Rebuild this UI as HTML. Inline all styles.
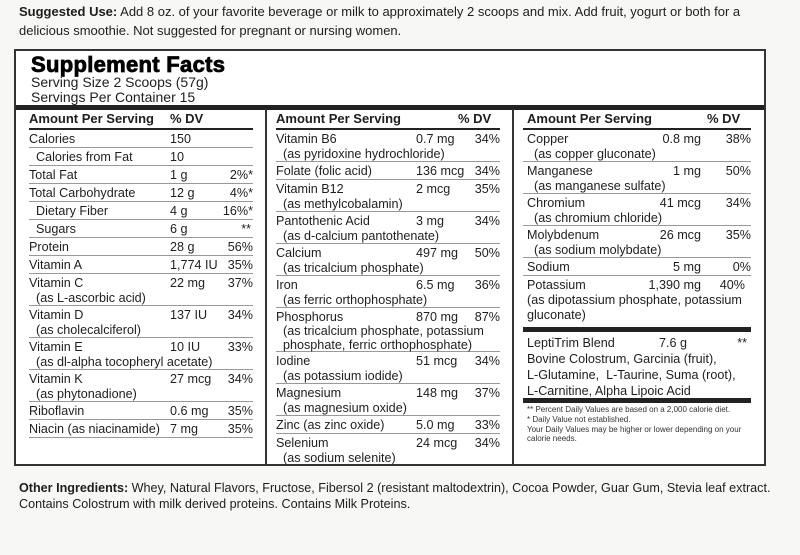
<!DOCTYPE html>
<html><head><meta charset="utf-8"><style>
*{margin:0;padding:0;box-sizing:border-box}
body{width:800px;height:555px;background:#f7f7f6;font-family:"Liberation Sans",Arial,sans-serif;color:#1e1e1e;position:relative;overflow:hidden}
.t{position:absolute;font-size:13px;line-height:16px;white-space:nowrap}
#box{position:absolute;left:14px;top:49px;width:752px;height:417px;background:#fff;border:2px solid #333}
.ttl{position:absolute;left:15px;top:3px;font-size:22px;line-height:22px;font-weight:bold;letter-spacing:0.3px;color:#000;-webkit-text-stroke:0.8px #000;white-space:nowrap}
.col{position:absolute;top:58px;height:357px}
.r{position:absolute;left:0;right:0;border-bottom:1px solid #999;font-size:12.6px;line-height:15px;padding-top:2px;white-space:nowrap}
.r .v{position:absolute;top:2px}
.r .d{position:absolute;top:2px}
.hd{position:absolute;left:0;right:0;top:0;height:21px;border-bottom:2px solid #222;font-weight:bold;font-size:13px;line-height:19px}
.vl{position:absolute;top:58px;width:2px;height:357px;background:#333}
</style></head><body>
<div class="t" style="left:19px;top:4px"><b>Suggested Use:</b> Add 8 oz. of your favorite beverage or milk to approximately 2 scoops and mix. Add fruit, yogurt or both for a</div>
<div class="t" style="left:19px;top:23px">delicious smoothie. Not suggested for pregnant or nursing women.</div>
<div id="box">
<div class="ttl">Supplement Facts</div>
<div class="t" style="left:15px;top:23px;font-size:14px">Serving Size 2 Scoops (57g)</div>
<div class="t" style="left:15px;top:38px;font-size:14px">Servings Per Container 15</div>
<div style="position:absolute;left:0;right:0;top:54px;height:5px;background:#222"></div>
<div class="vl" style="left:249px"></div>
<div class="vl" style="left:496px"></div>

<div class="col" style="left:13px;width:224px">
<div class="hd"><span style="position:absolute;left:0">Amount Per Serving</span><span style="position:absolute;left:141px">% DV</span></div>
<div class="r" style="top:21px;height:18px">Calories<span class="v" style="left:141px">150</span></div>
<div class="r" style="top:39px;height:18px">&nbsp;&nbsp;Calories from Fat<span class="v" style="left:141px">10</span></div>
<div class="r" style="top:57px;height:18px">Total Fat<span class="v" style="left:141px">1 g</span><span class="d" style="right:0">2%*</span></div>
<div class="r" style="top:75px;height:18px">Total Carbohydrate<span class="v" style="left:141px">12 g</span><span class="d" style="right:0">4%*</span></div>
<div class="r" style="top:93px;height:18px">&nbsp;&nbsp;Dietary Fiber<span class="v" style="left:141px">4 g</span><span class="d" style="right:0">16%*</span></div>
<div class="r" style="top:111px;height:18px">&nbsp;&nbsp;Sugars<span class="v" style="left:141px">6 g</span><span class="d" style="right:2px">**</span></div>
<div class="r" style="top:129px;height:18px">Protein<span class="v" style="left:141px">28 g</span><span class="d" style="right:0">56%</span></div>
<div class="r" style="top:147px;height:18px">Vitamin A<span class="v" style="left:141px">1,774 IU</span><span class="d" style="right:0">35%</span></div>
<div class="r" style="top:165px;height:32px">Vitamin C<br>&nbsp;&nbsp;(as L-ascorbic acid)<span class="v" style="left:141px">22 mg</span><span class="d" style="right:0">37%</span></div>
<div class="r" style="top:197px;height:32px">Vitamin D<br>&nbsp;&nbsp;(as cholecalciferol)<span class="v" style="left:141px">137 IU</span><span class="d" style="right:0">34%</span></div>
<div class="r" style="top:229px;height:32px">Vitamin E<br>&nbsp;&nbsp;(as dl-alpha tocopheryl acetate)<span class="v" style="left:141px">10 IU</span><span class="d" style="right:0">33%</span></div>
<div class="r" style="top:261px;height:32px">Vitamin K<br>&nbsp;&nbsp;(as phytonadione)<span class="v" style="left:141px">27 mcg</span><span class="d" style="right:0">34%</span></div>
<div class="r" style="top:293px;height:18px">Riboflavin<span class="v" style="left:141px">0.6 mg</span><span class="d" style="right:0">35%</span></div>
<div class="r" style="top:311px;height:18px">Niacin (as niacinamide)<span class="v" style="left:141px">7 mg</span><span class="d" style="right:0">35%</span></div>
</div>

<div class="col" style="left:260px;width:224px">
<div class="hd"><span style="position:absolute;left:0">Amount Per Serving</span><span style="position:absolute;left:182px">% DV</span></div>
<div class="r" style="top:21px;height:32px">Vitamin B6<br>&nbsp;&nbsp;(as pyridoxine hydrochloride)<span class="v" style="left:140px">0.7 mg</span><span class="d" style="right:0">34%</span></div>
<div class="r" style="top:53px;height:18px">Folate (folic acid)<span class="v" style="left:140px">136 mcg</span><span class="d" style="right:0">34%</span></div>
<div class="r" style="top:71px;height:32px">Vitamin B12<br>&nbsp;&nbsp;(as methylcobalamin)<span class="v" style="left:140px">2 mcg</span><span class="d" style="right:0">35%</span></div>
<div class="r" style="top:103px;height:32px">Pantothenic Acid<br>&nbsp;&nbsp;(as d-calcium pantothenate)<span class="v" style="left:140px">3 mg</span><span class="d" style="right:0">34%</span></div>
<div class="r" style="top:135px;height:32px">Calcium<br>&nbsp;&nbsp;(as tricalcium phosphate)<span class="v" style="left:140px">497 mg</span><span class="d" style="right:0">50%</span></div>
<div class="r" style="top:167px;height:32px">Iron<br>&nbsp;&nbsp;(as ferric orthophosphate)<span class="v" style="left:140px">6.5 mg</span><span class="d" style="right:0">36%</span></div>
<div class="r" style="top:199px;height:44px;line-height:14px">Phosphorus<br>&nbsp;&nbsp;(as tricalcium phosphate, potassium<br>&nbsp;&nbsp;phosphate, ferric orthophosphate)<span class="v" style="left:140px">870 mg</span><span class="d" style="right:0">87%</span></div>
<div class="r" style="top:243px;height:32px">Iodine<br>&nbsp;&nbsp;(as potassium iodide)<span class="v" style="left:140px">51 mcg</span><span class="d" style="right:0">34%</span></div>
<div class="r" style="top:275px;height:32px">Magnesium<br>&nbsp;&nbsp;(as magnesium oxide)<span class="v" style="left:140px">148 mg</span><span class="d" style="right:0">37%</span></div>
<div class="r" style="top:307px;height:18px">Zinc (as zinc oxide)<span class="v" style="left:140px">5.0 mg</span><span class="d" style="right:0">33%</span></div>
<div class="r" style="top:325px;height:32px;border-bottom:none">Selenium<br>&nbsp;&nbsp;(as sodium selenite)<span class="v" style="left:140px">24 mcg</span><span class="d" style="right:0">34%</span></div>
</div>

<div class="col" style="left:507px;width:228px">
<div class="hd"><span style="position:absolute;left:4px">Amount Per Serving</span><span style="position:absolute;left:184px">% DV</span></div>
<div class="r" style="top:21px;height:32px;padding-left:4px">Copper<br>&nbsp;&nbsp;(as copper gluconate)<span class="v" style="right:50px">0.8 mg</span><span class="d" style="right:0">38%</span></div>
<div class="r" style="top:53px;height:32px;padding-left:4px">Manganese<br>&nbsp;&nbsp;(as manganese sulfate)<span class="v" style="right:50px">1 mg</span><span class="d" style="right:0">50%</span></div>
<div class="r" style="top:85px;height:32px;padding-left:4px">Chromium<br>&nbsp;&nbsp;(as chromium chloride)<span class="v" style="right:50px">41 mcg</span><span class="d" style="right:0">34%</span></div>
<div class="r" style="top:117px;height:32px;padding-left:4px">Molybdenum<br>&nbsp;&nbsp;(as sodium molybdate)<span class="v" style="right:50px">26 mcg</span><span class="d" style="right:0">35%</span></div>
<div class="r" style="top:149px;height:18px;padding-left:4px">Sodium<span class="v" style="right:50px">5 mg</span><span class="d" style="right:0">0%</span></div>
<div class="r" style="top:167px;height:49px;padding-left:4px;border-bottom:none">Potassium<br>(as dipotassium phosphate, potassium<br>gluconate)<span class="v" style="right:50px">1,390 mg</span><span class="d" style="right:6px">40%</span></div>
<div style="position:absolute;left:0;right:0;top:218px;height:5px;background:#222"></div>
<div class="r" style="top:224px;height:64px;padding-left:4px;border-bottom:none;line-height:16px">LeptiTrim Blend<br>Bovine Colostrum, Garcinia (fruit),<br>L-Glutamine,&nbsp; L-Taurine, Suma (root),<br>L-Carnitine, Alpha Lipoic Acid<span class="v" style="left:136px">7.6 g</span><span class="d" style="right:4px">**</span></div>
<div style="position:absolute;left:0;right:0;top:289px;height:5px;background:#222"></div>
<div style="position:absolute;left:4px;top:296px;font-size:8px;line-height:9.8px;color:#333;white-space:nowrap">** Percent Daily Values are based on a 2,000 calorie diet.<br>* Daily Value not established.<br>Your Daily Values may be higher or lower depending on your<br>calorie needs.</div>
</div>
</div>
<div class="t" style="left:19px;top:480px;font-size:12.6px"><b>Other Ingredients:</b> Whey, Natural Flavors, Fructose, Fibersol 2 (resistant maltodextrin), Cocoa Powder, Guar Gum, Stevia leaf extract.</div>
<div class="t" style="left:19px;top:496px;font-size:12.6px">Contains Colostrum with milk derived proteins. Contains Milk Proteins.</div>
</body></html>
